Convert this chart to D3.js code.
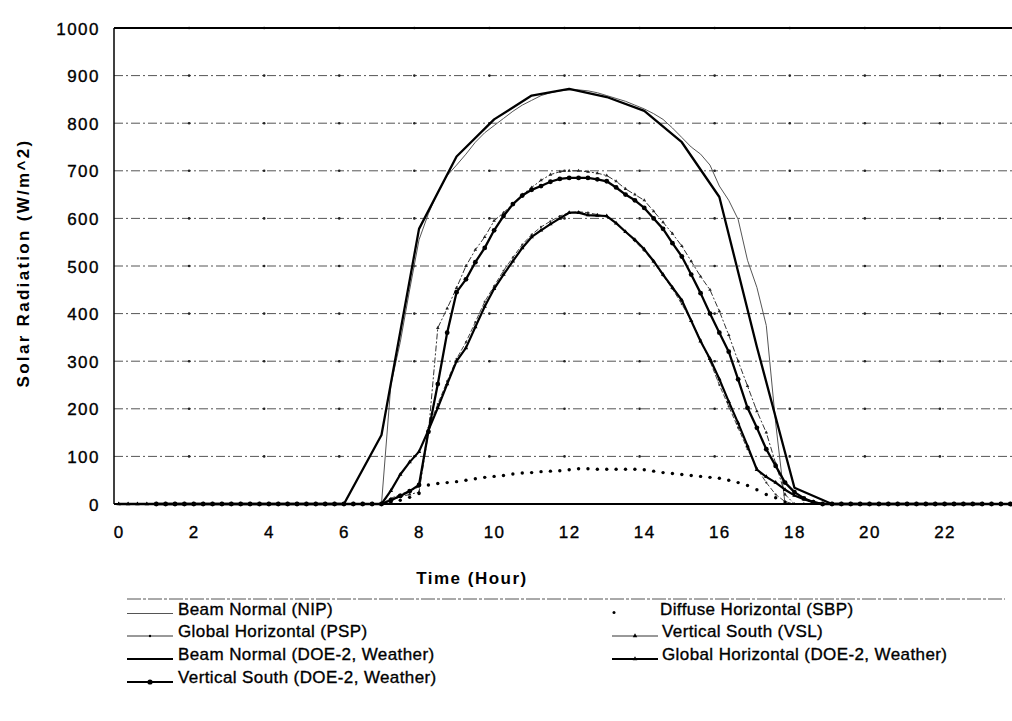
<!DOCTYPE html>
<html>
<head>
<meta charset="utf-8">
<script src="https://cdn.jsdelivr.net/npm/d3@7/dist/d3.min.js"></script>
<style>
  html, body { margin: 0; padding: 0; background: #fff; }
  svg { display: block; }
  text { font-family: "Liberation Sans", Arial, sans-serif; fill: #000; }
  .heavy { stroke: #000; stroke-width: 0.35px; }
</style>
</head>
<body>
<svg id="chart" width="1012" height="721"></svg>
<script>
// ---- data: solar radiation, 15-minute readings (index i = hour i/4) ----
const yTicks = [0, 100, 200, 300, 400, 500, 600, 700, 800, 900, 1000];
const xTicks = [0, 2, 4, 6, 8, 10, 12, 14, 16, 18, 20, 22];

// hourly DOE-2 weather-file beam normal (hour 0 .. 23)
const beamDoeHours = [0, 1, 2, 3, 4, 5, 6, 7, 8, 9, 10, 11, 12, 13, 14, 15, 16, 17, 18, 19, 20, 21, 22, 23];
const beamDoe = [0, 0, 0, 0, 0, 0, 0, 145, 578, 730, 808, 858, 872, 855, 826, 760, 645, 330, 34, 0, 0, 0, 0, 0];

// measured, 15-minute
const beamNIP = [
  0, 0, 0, 0, 0, 0, 0, 0,
  0, 0, 0, 0, 0, 0, 0, 0,
  0, 0, 0, 0, 0, 0, 0, 0,
  0, 0, 0, 0, 0, 250, 340, 450,
  555, 610, 655, 690, 712, 735, 760, 780,
  795, 810, 825, 838, 848, 858, 864, 868,
  870, 870, 868, 864, 858, 852, 846, 838,
  830, 820, 808, 790, 770, 750, 735, 712,
  668, 638, 598, 512, 455, 375, 170, 0,
  0, 0, 0, 0, 0, 0, 0, 0,
  0, 0, 0, 0, 0, 0, 0, 0,
  0, 0, 0, 0, 0, 0, 0, 0
];
const diffuseSBP = [
  0, 0, 0, 0, 0, 0, 0, 0,
  0, 0, 0, 0, 0, 0, 0, 0,
  0, 0, 0, 0, 0, 0, 0, 0,
  0, 0, 0, 0, 0, 3, 8, 14,
  22, 40, 43, 45, 47, 50, 53, 56,
  58, 60, 63, 65, 66, 68, 69, 70,
  72, 74, 74, 73, 73, 73, 73, 73,
  72, 69, 66, 64, 62, 60, 58, 56,
  54, 50, 45, 39, 30, 20, 13, 4,
  0, 0, 0, 0, 0, 0, 0, 0,
  0, 0, 0, 0, 0, 0, 0, 0,
  0, 0, 0, 0, 0, 0, 0, 0
];
const globalPSP = [
  0, 0, 0, 0, 0, 0, 0, 0,
  0, 0, 0, 0, 0, 0, 0, 0,
  0, 0, 0, 0, 0, 0, 0, 0,
  0, 0, 0, 0, 0, 12, 20, 28,
  36, 160, 210, 258, 305, 340, 382, 425,
  458, 490, 518, 545, 566, 582, 594, 605,
  612, 614, 612, 608, 604, 590, 572, 552,
  532, 508, 480, 452, 420, 385, 345, 300,
  250, 205, 160, 115, 75, 45, 20, 5,
  0, 0, 0, 0, 0, 0, 0, 0,
  0, 0, 0, 0, 0, 0, 0, 0,
  0, 0, 0, 0, 0, 0, 0, 0
];
const southVSL = [
  0, 0, 0, 0, 0, 0, 0, 0,
  0, 0, 0, 0, 0, 0, 0, 0,
  0, 0, 0, 0, 0, 0, 0, 0,
  0, 0, 0, 0, 0, 8, 15, 20,
  25, 150, 370, 411, 454, 500, 534, 561,
  595, 612, 630, 650, 665, 680, 692, 698,
  700, 700, 698, 695, 690, 678, 662, 650,
  638, 615, 592, 568, 542, 510, 478, 450,
  405, 355, 300, 248, 195, 150, 85, 20,
  0, 0, 0, 0, 0, 0, 0, 0,
  0, 0, 0, 0, 0, 0, 0, 0,
  0, 0, 0, 0, 0, 0, 0, 0
];
// DOE-2 weather file, 15-minute
const globalDoe = [
  0, 0, 0, 0, 0, 0, 0, 0,
  0, 0, 0, 0, 0, 0, 0, 0,
  0, 0, 0, 0, 0, 0, 0, 0,
  0, 0, 0, 0, 0, 28, 62, 88,
  110, 155, 202, 252, 300, 328, 372, 415,
  452, 482, 510, 538, 561, 575, 588, 600,
  612, 612, 607, 606, 605, 590, 572, 555,
  535, 510, 482, 455, 428, 385, 342, 305,
  262, 215, 170, 122, 72, 57, 45, 30,
  18, 10, 4, 0, 0, 0, 0, 0,
  0, 0, 0, 0, 0, 0, 0, 0,
  0, 0, 0, 0, 0, 0, 0, 0
];
// first hour of this series has no readings
const southDoe = [
  null, null, null, null, 0, 0, 0, 0,
  0, 0, 0, 0, 0, 0, 0, 0,
  0, 0, 0, 0, 0, 0, 0, 0,
  0, 0, 0, 0, 0, 8, 17, 27,
  40, 152, 252, 360, 445, 472, 508, 538,
  575, 605, 630, 648, 660, 668, 677, 683,
  685, 685, 685, 682, 678, 665, 650, 638,
  622, 600, 578, 548, 520, 482, 443, 400,
  360, 320, 262, 202, 160, 115, 80, 45,
  25, 12, 4, 0, 0, 0, 0, 0,
  0, 0, 0, 0, 0, 0, 0, 0,
  0, 0, 0, 0, 0, 0, 0, 0
];

const legendNames = [
  "Beam Normal (NIP)", "Diffuse Horizontal (SBP)",
  "Global Horizontal (PSP)", "Vertical South (VSL)",
  "Beam Normal (DOE-2, Weather)", "Global Horizontal (DOE-2, Weather)",
  "Vertical South (DOE-2, Weather)"
];

// ---- drawing ----
const svg = d3.select("#chart");
const plot = { left: 114, top: 28, right: 1015, bottom: 504 };

// 96 quarter-hour categories, each point centred in its slot
const x = d3.scaleLinear().domain([-0.125, 23.875]).range([plot.left, plot.right]);
const y = d3.scaleLinear().domain([0, 1000]).range([plot.bottom, plot.top]);
const quarter = i => i / 4;

// gridlines (dash-dot), with small tick dots at every 2-hour boundary
const grid = svg.append("g");
grid.selectAll("line.grid")
  .data(yTicks.filter(v => v > 0 && v < 1000))
  .join("line")
  .attr("x1", plot.left).attr("x2", 1012)
  .attr("y1", d => y(d)).attr("y2", d => y(d))
  .attr("stroke", "#555").attr("stroke-width", 1)
  .attr("stroke-dasharray", "9,3,2,3");
const boundaryHours = xTicks.filter(h => h > 0);
yTicks.filter(v => v > 0).forEach(v => {
  grid.selectAll(null).data(boundaryHours).join("circle")
    .attr("cx", h => x(h - 0.125)).attr("cy", y(v)).attr("r", 1.3)
    .attr("fill", "#222");
});

// frame: top border and left axis line
svg.append("line").attr("x1", plot.left).attr("x2", 1012)
  .attr("y1", y(1000)).attr("y2", y(1000))
  .attr("stroke", "#000").attr("stroke-width", 2.2);
svg.append("line").attr("x1", plot.left).attr("x2", plot.left)
  .attr("y1", y(1000)).attr("y2", y(0))
  .attr("stroke", "#000").attr("stroke-width", 1.5);

// axes (labels only)
const yAxis = svg.append("g").attr("transform", `translate(${plot.left - 14},0)`)
  .call(d3.axisLeft(y).tickValues(yTicks).tickSize(0).tickPadding(0).tickFormat(d3.format("d")));
yAxis.select(".domain").remove();
yAxis.selectAll("text")
  .attr("dy", "0.36em").attr("class", "heavy")
  .style("font-size", "17px").style("letter-spacing", "1.5px")
  .style("font-family", "'Liberation Sans', Arial, sans-serif").attr("fill", "#000");

const xAxis = svg.append("g").attr("transform", `translate(0,${plot.bottom})`)
  .call(d3.axisBottom(x).tickValues(xTicks).tickSize(0).tickPadding(22).tickFormat(d3.format("d")));
xAxis.select(".domain").remove();
xAxis.selectAll("text")
  .attr("class", "heavy")
  .style("font-size", "17px").style("letter-spacing", "1.5px")
  .style("font-family", "'Liberation Sans', Arial, sans-serif").attr("fill", "#000");

// axis titles
svg.append("text")
  .attr("transform", "translate(29,263) rotate(-90)")
  .attr("text-anchor", "middle")
  .style("font-size", "17px").style("font-weight", "bold").style("letter-spacing", "2.3px")
  .text("Solar Radiation (W/m^2)");
svg.append("text")
  .attr("x", 472).attr("y", 584).attr("text-anchor", "middle")
  .style("font-size", "17px").style("font-weight", "bold").style("letter-spacing", "1.5px")
  .text("Time (Hour)");

// series
const lineQ = d3.line().defined(d => d != null).x((d, i) => x(quarter(i))).y(d => y(d));
const series = svg.append("g");

function drawQuarter(values, stroke, width, dash) {
  series.append("path").datum(values)
    .attr("d", lineQ).attr("fill", "none")
    .attr("stroke", stroke).attr("stroke-width", width)
    .attr("stroke-dasharray", dash || null)
    .attr("stroke-linejoin", "round");
}
function drawMarkers(values, r, fill, shape) {
  const g = series.append("g");
  values.forEach((v, i) => {
    if (v == null) return;
    if (shape === "tri") {
      const cx = x(quarter(i)), cy = y(v);
      g.append("path").attr("d", d3.symbol(d3.symbolTriangle, r * r * 3.2)())
        .attr("transform", `translate(${cx},${cy})`).attr("fill", fill);
    } else {
      g.append("circle").attr("cx", x(quarter(i))).attr("cy", y(v)).attr("r", r).attr("fill", fill);
    }
  });
}

// bottom axis base line
svg.append("line").attr("x1", plot.left).attr("x2", 1012)
  .attr("y1", y(0)).attr("y2", y(0)).attr("stroke", "#000").attr("stroke-width", 2);

// measured
drawQuarter(beamNIP, "#555", 1);
drawQuarter(globalPSP, "#444", 1, "5,2");
drawMarkers(globalPSP, 1.1, "#333");
drawQuarter(southVSL, "#333", 1, "6,2,2,2");
drawMarkers(southVSL, 1.3, "#222", "tri");
drawMarkers(diffuseSBP.map(v => (v > 0 ? v : null)), 1.7, "#000");

// DOE-2
series.append("path").datum(beamDoe)
  .attr("d", d3.line().x((d, i) => x(beamDoeHours[i])).y(d => y(d)))
  .attr("fill", "none").attr("stroke", "#000").attr("stroke-width", 2.3)
  .attr("stroke-linejoin", "round");
drawQuarter(globalDoe, "#000", 2.2);
drawMarkers(globalDoe, 1.6, "#000", "tri");
drawQuarter(southDoe, "#000", 2.3);
drawMarkers(southDoe, 2.4, "#000");

// legend
const legend = svg.append("g");
legend.append("line").attr("x1", 127).attr("x2", 1005).attr("y1", 599).attr("y2", 599)
  .attr("stroke", "#555").attr("stroke-width", 1).attr("stroke-dasharray", "14,2,3,2");

const legendRows = [614.5, 637, 660, 683];
const legendPos = [
  { col: 0, row: 0 }, { col: 1, row: 0 },
  { col: 0, row: 1 }, { col: 1, row: 1 },
  { col: 0, row: 2 }, { col: 1, row: 2 },
  { col: 0, row: 3 }
];
const colSample = [127, 612];
const colText = [178, 662];
const legendStyle = [
  { stroke: "#555", w: 1, marker: null },
  { stroke: null, w: 0, marker: "dot" },
  { stroke: "#333", w: 1, marker: "small" },
  { stroke: "#333", w: 1, marker: "tri" },
  { stroke: "#000", w: 2.2, marker: null },
  { stroke: "#000", w: 2, marker: "tri" },
  { stroke: "#000", w: 2.2, marker: "big" }
];
legendNames.forEach((name, k) => {
  const p = legendPos[k], st = legendStyle[k];
  const by = legendRows[p.row];
  const x0 = colSample[p.col], x1 = x0 + 46, ly = by - 1;
  if (st.stroke) {
    legend.append("line").attr("x1", x0).attr("x2", x1).attr("y1", ly).attr("y2", ly)
      .attr("stroke", st.stroke).attr("stroke-width", st.w);
  }
  const mx = (x0 + x1) / 2;
  if (st.marker === "dot") legend.append("circle").attr("cx", 614).attr("cy", ly - 1).attr("r", 1.5).attr("fill", "#000");
  if (st.marker === "small") legend.append("circle").attr("cx", mx).attr("cy", ly).attr("r", 1.2).attr("fill", "#000");
  if (st.marker === "tri") legend.append("path").attr("d", d3.symbol(d3.symbolTriangle, 9)())
    .attr("transform", `translate(${mx},${ly})`).attr("fill", "#000");
  if (st.marker === "big") legend.append("circle").attr("cx", mx).attr("cy", ly).attr("r", 2.6).attr("fill", "#000");
  legend.append("text")
    .attr("class", "heavy")
    .attr("x", k === 1 ? 660 : colText[p.col]).attr("y", by)
    .style("font-size", "17px").style("letter-spacing", "0.4px")
    .text(name);
});
</script>
</body>
</html>
